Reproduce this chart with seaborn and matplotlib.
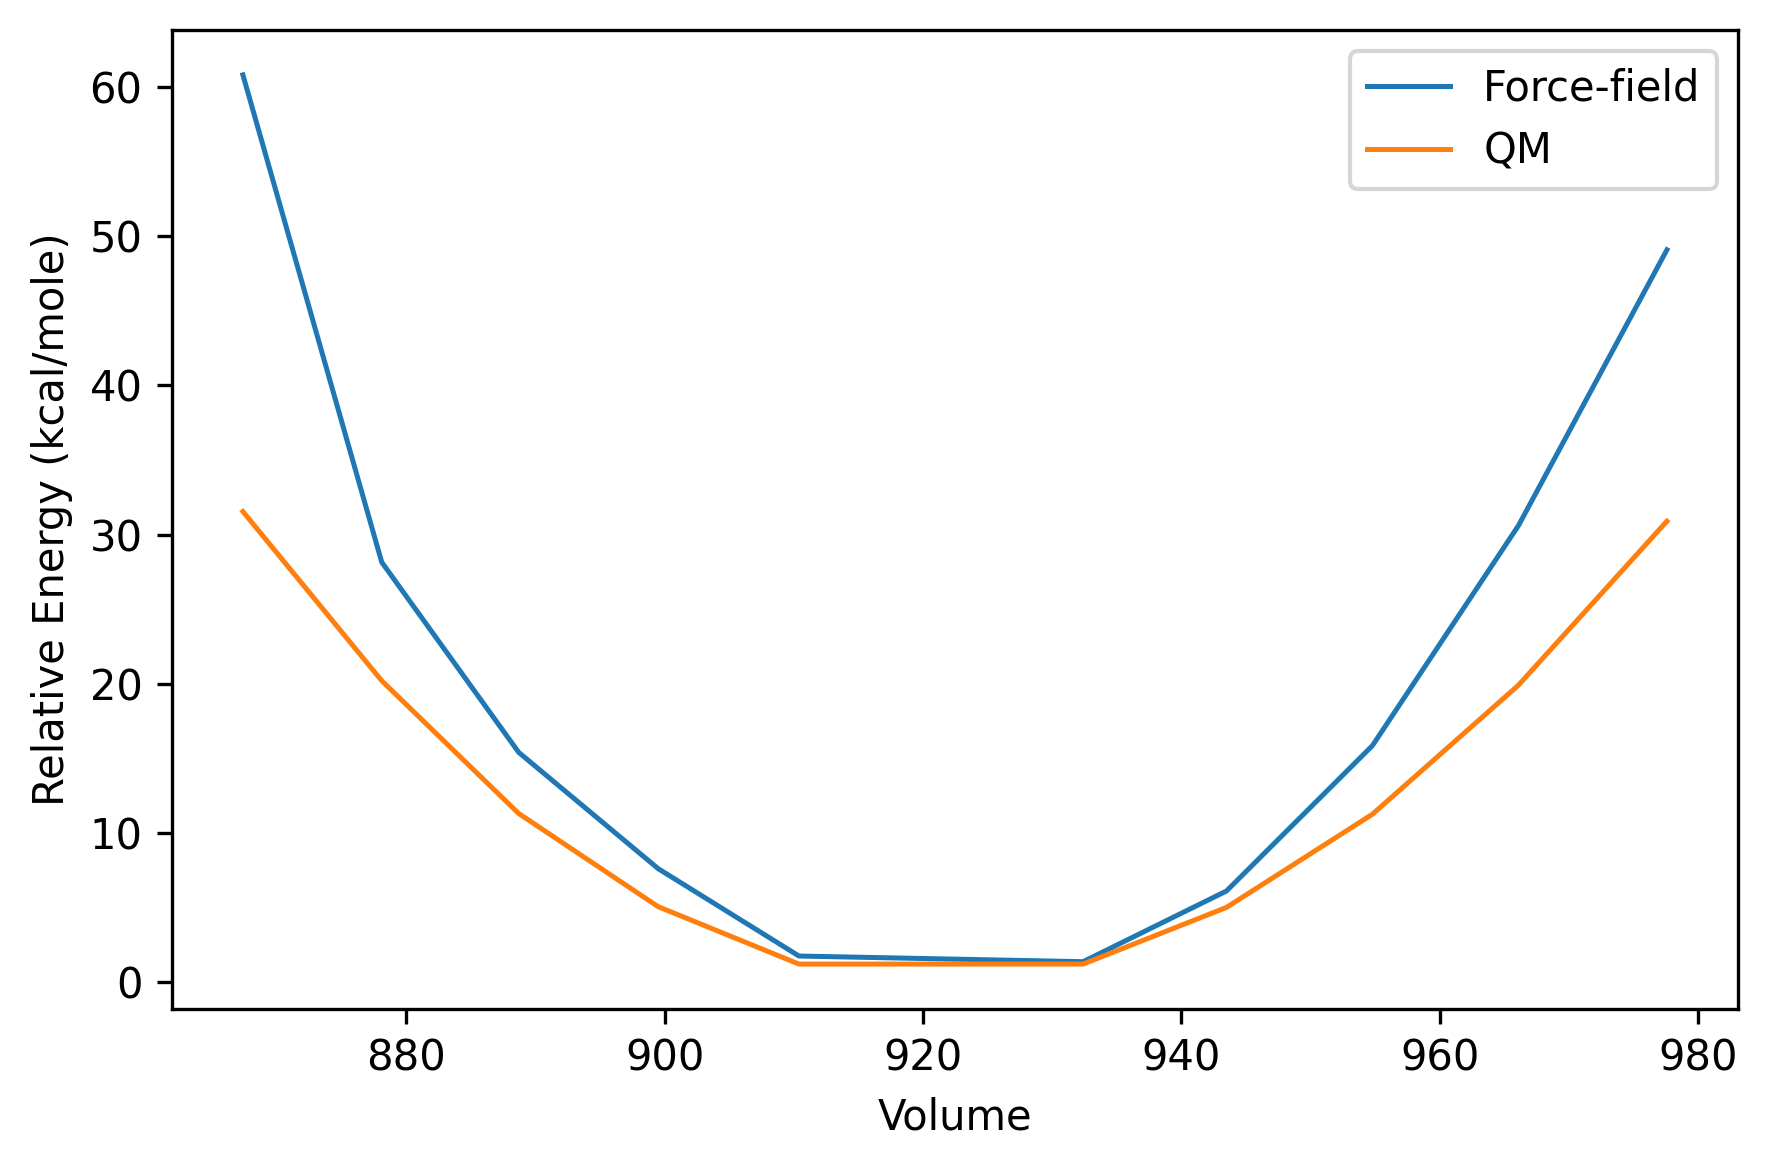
import matplotlib
matplotlib.use("Agg")
import matplotlib.pyplot as plt
import seaborn as sns
import pandas as pd

volume = [867.35, 878.1, 888.7, 899.5, 910.4, 932.4, 943.5, 954.8, 966.1, 977.6]
force_field = [60.83, 28.15, 15.4, 7.6, 1.74, 1.36, 6.1, 15.85, 30.6, 49.1]
qm = [31.55, 20.2, 11.3, 5.05, 1.2, 1.2, 5.0, 11.25, 19.9, 30.9]
series_names = ["Force-field", "QM"]

plt.rcParams['font.family'] = ['DejaVu Sans']
plt.rcParams['lines.linewidth'] = 1.2
fig, ax = plt.subplots(figsize=(5.9, 3.9), dpi=300)

df = pd.DataFrame({
    "Volume": volume * 2,
    "Energy": force_field + qm,
    "Series": [series_names[0]] * len(volume) + [series_names[1]] * len(volume),
})
sns.lineplot(data=df, x="Volume", y="Energy", hue="Series",
             palette=["#1f77b4", "#ff7f0e"], linewidth=1.2, ax=ax, sort=False)

ax.set_xlabel("Volume")
ax.set_ylabel("Relative Energy (kcal/mole)")
ax.legend(loc="upper right", title=None)
for line in ax.get_legend().get_lines():
    line.set_linewidth(1.2)
fig.subplots_adjust(left=0.097, right=0.982, top=0.974, bottom=0.138)
fig.savefig("out.png", dpi=300)
